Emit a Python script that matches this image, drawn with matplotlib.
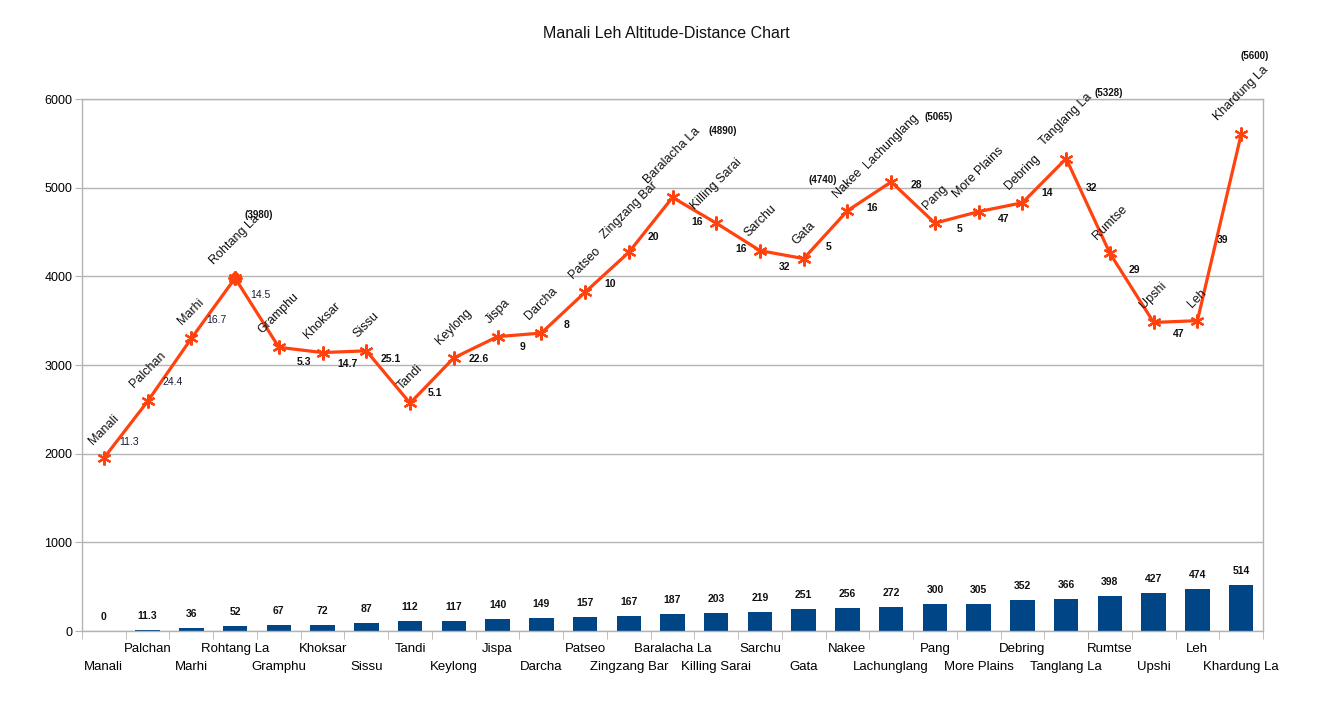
import matplotlib
matplotlib.use("Agg")
import matplotlib.pyplot as plt
import numpy as np

plt.rcParams['font.family'] = ['Liberation Sans', 'DejaVu Sans']

# ---------------- data ----------------
names = ["Manali", "Palchan", "Marhi", "Rohtang La", "Gramphu", "Khoksar", "Sissu",
         "Tandi", "Keylong", "Jispa", "Darcha", "Patseo", "Zingzang Bar",
         "Baralacha La", "Killing Sarai", "Sarchu", "Gata", "Nakee", "Lachunglang",
         "Pang", "More Plains", "Debring", "Tanglang La", "Rumtse", "Upshi", "Leh",
         "Khardung La"]
altitude = [1950, 2590, 3300, 3980, 3200, 3140, 3160, 2570, 3080, 3320, 3360, 3820,
            4270, 4890, 4600, 4290, 4200, 4740, 5065, 4600, 4730, 4830, 5328, 4260,
            3480, 3500, 5600]
distance = [0, 11.3, 36, 52, 67, 72, 87, 112, 117, 140, 149, 157, 167, 187, 203, 219,
            251, 256, 272, 300, 305, 352, 366, 398, 427, 474, 514]
leg_km = ["11.3", "24.4", "16.7", "14.5", "5.3", "14.7", "25.1", "5.1", "22.6", "9",
          "8", "10", "20", "16", "16", "32", "5", "16", "28", "5", "47", "14", "32",
          "29", "47", "39"]
note_idx = [3, 13, 17, 18, 22, 26]
note_text = ["(3980)", "(4890)", "(4740)", "(5065)", "(5328)", "(5600)"]
diamond_idx = [3]
title = "Manali Leh Altitude-Distance Chart"

# ---------------- style ----------------
BAR = "#004586"
LINE = "#ff420e"
GRID = "#b3b3b3"
note_offsets = [(24, 63), (50, 66), (-25, 31), (47, 65), (43, 66), (14, 78)]

W, H = 1332, 701
fig = plt.figure(figsize=(W / 100, H / 100), dpi=100)
ax = fig.add_axes([82 / W, (H - 631) / H, (1263 - 82) / W, (631 - 99) / H])

x = np.arange(len(names))
ax.bar(x, distance, width=0.56, color=BAR, zorder=2)
ax.plot(x, altitude, color=LINE, lw=2.3, marker=(6, 2, 0), ms=10, mew=1.6,
        mec=LINE, zorder=3)
ax.plot([x[i] for i in diamond_idx], [altitude[i] for i in diamond_idx], ls='none',
        marker='D', ms=7, color=LINE, zorder=4)

ax.set_xlim(-0.5, len(names) - 0.5)
ax.set_ylim(0, 6000)
ax.set_yticks(np.arange(0, 6001, 1000))
ax.yaxis.grid(True, color=GRID, lw=1)
ax.set_axisbelow(True)
for s in ax.spines.values():
    s.set_color(GRID)
    s.set_linewidth(1)

ax.tick_params(axis='y', length=5, color=GRID, labelsize=9, pad=2)
ax.set_xticks(x)
ax.set_xticklabels(names, fontsize=9.5)
ax.tick_params(axis='x', which='major', length=0)
for i, t in enumerate(ax.xaxis.get_major_ticks()):
    t.set_pad(21.5 if i % 2 == 0 else 8.7)
ax.set_xticks(np.arange(-0.5, len(names), 1), minor=True)
ax.tick_params(axis='x', which='minor', length=6, color=GRID)

# bar labels
for i, d in enumerate(distance):
    ax.annotate(f"{d:g}", (x[i], d), xytext=(0, 14), textcoords='offset pixels',
                ha='center', va='center', fontsize=7.5, fontweight='bold', color='#111111')

# point name labels
for i, n in enumerate(names):
    ax.annotate(n, (x[i], altitude[i]), xytext=(0, 11), textcoords='offset pixels',
                rotation=45, ha='center', va='bottom', fontsize=9, color='#111111')

# leg distance labels
for i, t in enumerate(leg_km):
    a, b = altitude[i], altitude[i + 1]
    dy = 18 if (b - a) < -400 else -12
    ax.annotate(t, (x[i] + 0.5, (a + b) / 2), xytext=(3, dy), textcoords='offset pixels',
                ha='center', va='center', fontsize=7.5,
                fontweight='normal' if i < 4 else 'bold',
                color='#1a1a3a' if i < 4 else '#111111')

# altitude notes
for k, i in enumerate(note_idx):
    ax.annotate(note_text[k], (x[i], altitude[i]), xytext=note_offsets[k],
                textcoords='offset pixels', ha='center', va='center', fontsize=7,
                fontweight='bold', color='#111111')

fig.text(0.5, 1 - 33 / H, title, ha='center', va='center', fontsize=11.5, color='#111111')

fig.savefig("out.png", dpi=100)
